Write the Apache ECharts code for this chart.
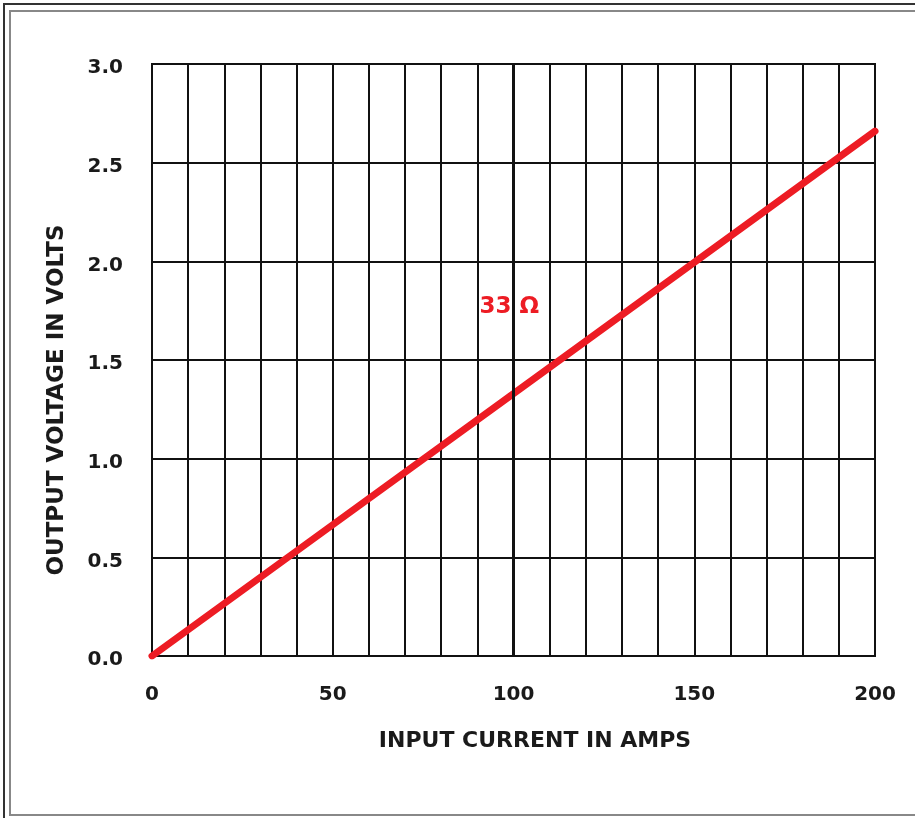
<!DOCTYPE html>
<html><head><meta charset="utf-8">
<script src="https://cdn.jsdelivr.net/npm/echarts@6/dist/echarts.min.js"></script>
<style>html,body{margin:0;padding:0;background:#fff}#c{width:915px;height:818px}</style>
</head><body><div id="c"></div>
<script>
const currentAmps = [0, 50, 100, 150, 200];
const outputVolts = [0, 0.665, 1.33, 1.995, 2.66];
const xTicks = [0, 50, 100, 150, 200];
const yTicks = ['0.0','0.5','1.0','1.5','2.0','2.5','3.0'];
const seriesLabel = '33 Ω';
const xTitle = 'INPUT CURRENT IN AMPS';
const yTitle = 'OUTPUT VOLTAGE IN VOLTS';

const chart = echarts.init(document.getElementById('c'), null, {renderer:'canvas'});
const font = '"DejaVu Sans", sans-serif';
chart.setOption({
  animation:false,
  backgroundColor:'#fff',
  grid:{left:152, top:64, width:723, height:592, show:true, borderColor:'#111', borderWidth:2, containLabel:false},
  xAxis:{type:'value', min:0, max:200, interval:10,
    axisLine:{show:true, lineStyle:{color:'#111', width:2}},
    axisTick:{show:false},
    splitLine:{show:true, lineStyle:{color:'#111', width:2}},
    axisLabel:{margin:29, color:'#1a1a1a', fontFamily:font, fontWeight:'bold', fontSize:20,
      formatter:v=> xTicks.indexOf(v)>=0 ? String(v) : ''}
  },
  yAxis:{type:'value', min:0, max:3, interval:0.5,
    axisLine:{show:true, lineStyle:{color:'#111', width:2}},
    axisTick:{show:false},
    splitLine:{show:true, lineStyle:{color:'#111', width:2}},
    axisLabel:{margin:29, color:'#1a1a1a', fontFamily:font, fontWeight:'bold', fontSize:20,
      formatter:v=> '{a|' + yTicks[Math.round(v/0.5)] + '}',
      rich:{a:{padding:[8,0,0,0], color:'#1a1a1a', fontFamily:font, fontWeight:'bold', fontSize:20}}}
  },
  series:[{
    type:'line', name:seriesLabel,
    data: currentAmps.map((a,i)=>[a, outputVolts[i]]),
    showSymbol:false, symbol:'none',
    lineStyle:{color:'#ed1c24', width:7, cap:'round'},
    markLine:{silent:true, symbol:'none', label:{show:false},
      lineStyle:{color:'#111', width:3, type:'solid'}, data:[{xAxis:100}]},
    markPoint:{symbol:'circle', symbolSize:0,
      label:{show:true, formatter:seriesLabel, color:'#ed1c24', fontFamily:font, fontWeight:'bold', fontSize:23, position:'inside'},
      data:[{coord:[98.8, 1.77]}]}
  }],
  graphic:[
    {type:'text', x:535, y:741, style:{text:xTitle, fill:'#1a1a1a', font:'bold 22px '+font, textAlign:'center', textVerticalAlign:'middle'}},
    {type:'text', x:57, y:400, rotation:Math.PI/2, style:{text:yTitle, fill:'#1a1a1a', font:'bold 23px '+font, textAlign:'center', textVerticalAlign:'middle'}},
    {type:'polyline', shape:{points:[[915,4],[4,4],[4,818]]}, style:{stroke:'#333', lineWidth:2, fill:null}},
    {type:'polyline', shape:{points:[[915,11],[10,11],[10,815],[915,815]]}, style:{stroke:'#888', lineWidth:2, fill:null}}
  ]
});
</script></body></html>
